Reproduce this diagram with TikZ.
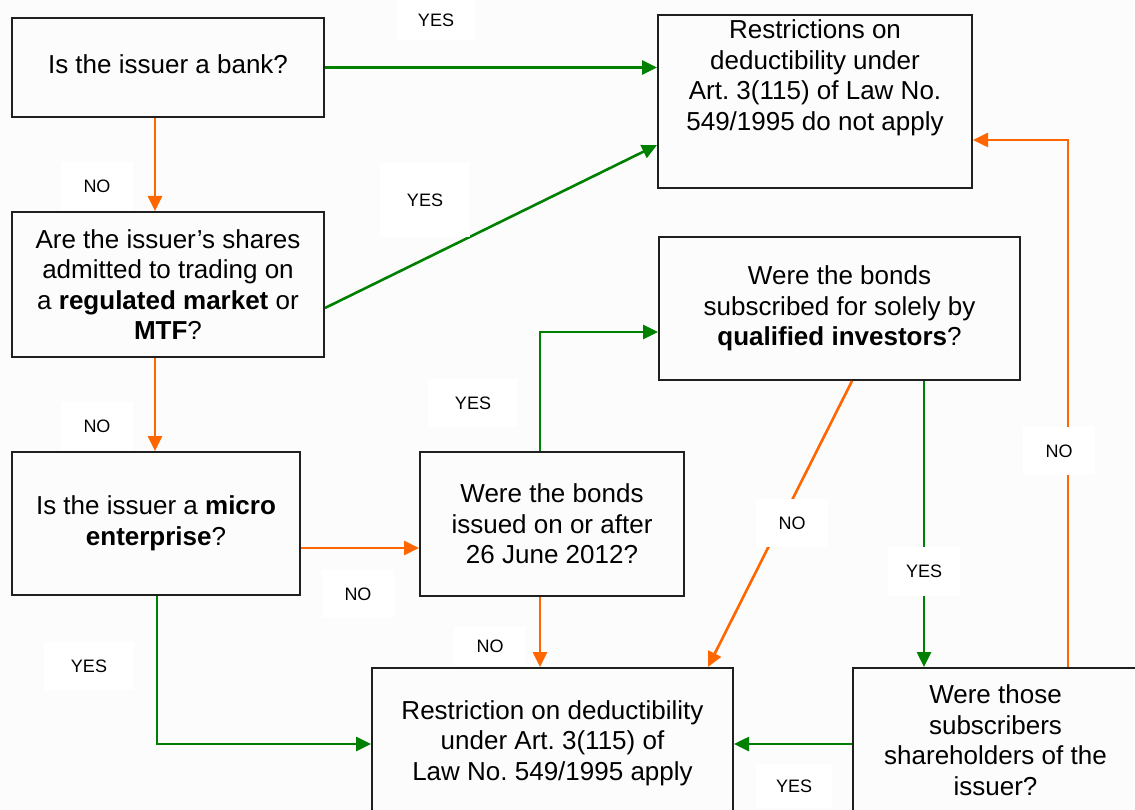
\documentclass[tikz,border=0pt]{standalone}
\usepackage{fontspec}
\setmainfont{Liberation Sans}
\usetikzlibrary{arrows.meta,calc}
\definecolor{ggreen}{HTML}{008000}
\definecolor{gorange}{HTML}{FF6600}
\definecolor{bgc}{HTML}{FCFCFC}
\frenchspacing
\begin{document}
\begin{tikzpicture}[x=1pt,y=-1pt,
 box/.style={draw=black!88, line width=2pt, inner sep=0pt, align=center, font=\fontsize{26}{30.5}\selectfont},
 txt/.style={align=center, inner sep=0pt, font=\fontsize{26}{30.5}\selectfont},
 lbl/.style={fill=white, font=\fontsize{18}{20}\selectfont, minimum width=72pt, minimum height=48pt, inner sep=0pt},
 garrow/.style={draw=ggreen, line width=2.6pt, -{Triangle[length=15pt,width=14pt]}},
 oarrow/.style={draw=gorange, line width=2.6pt, -{Triangle[length=15pt,width=14pt]}}]
\useasboundingbox (0,0) rectangle (1135,810);
\clip (0,0) rectangle (1135,810);
\fill[bgc] (0,0) rectangle (1135,810);

% boxes
\node[box, minimum width=312pt, minimum height=99pt] (A) at (168,67.5) {};
\node[txt] (At) at (168,64) {Is the issuer a bank?};
\node[box, minimum width=314pt, minimum height=173pt] (B) at (815,101.5) {};
\node[txt] (Bt) at (815,78) {Restrictions on\\deductibility under\\Art. 3(115) of Law No.\\549/1995 do not apply};
\node[box, minimum width=312pt, minimum height=145pt] (C) at (168,284.5) {Are the issuer’s shares\\admitted to trading on\\a \textbf{regulated market} or\\\textbf{MTF}?};
\node[box, minimum width=361pt, minimum height=143pt] (D) at (839.5,308.5) {Were the bonds\\subscribed for solely by\\\textbf{qualified investors}?};
\node[box, minimum width=288pt, minimum height=143pt] (E) at (156,523.5) {Is the issuer a \textbf{micro}\\\textbf{enterprise}?};
\node[box, minimum width=264pt, minimum height=144pt] (F) at (552,524) {Were the bonds\\issued on or after\\26 June 2012?};
\node[box, minimum width=361pt, minimum height=150pt] (G) at (552.5,743) {Restriction on deductibility\\under Art. 3(115) of\\Law No. 549/1995 apply};
\node[box, minimum width=285pt, minimum height=144pt] (H) at (995.5,740) {Were those\\subscribers\\shareholders of the\\issuer?};

% connectors
\draw[garrow] (A.east) -- (A.east -| B.west);
\draw[oarrow] ([xshift=-13pt]A.south) -- ([xshift=-13pt]A.south |- C.north);
\draw[garrow] ([yshift=-23.5pt]C.east) -- ([yshift=-43.5pt]B.west);
\draw[oarrow] ([xshift=-13pt]C.south) -- ([xshift=-13pt]C.south |- E.north);
\draw[oarrow] ([yshift=-24.5pt]E.east) -- ([yshift=-24.5pt]E.east -| F.west);
\draw[garrow] ([xshift=-12pt]F.north) |- ([yshift=-23.5pt]D.west);
\draw[oarrow] ([xshift=-12pt]F.south) -- ([xshift=-12pt]F.south |- G.north);
\draw[oarrow] ([xshift=12.5pt]D.south) -- ([xshift=155.5pt]G.north);
\draw[garrow] ([xshift=84.5pt]D.south) -- ([xshift=84.5pt]D.south |- H.north);
\draw[garrow] ([yshift=-4pt]H.west) -- ([yshift=-4pt]H.west -| G.east);
\draw[oarrow] ([xshift=72.5pt]H.north) |- ([yshift=-38.5pt]B.east);
\draw[garrow] ([xshift=1pt]E.south) |- ([yshift=-1pt]G.west);

% labels
\node[lbl, minimum width=78pt, minimum height=40pt] (l1) at (436,20) {YES};
\node[lbl] (l2) at (97,186) {NO};
\node[lbl, minimum width=90pt, minimum height=74pt] (l3) at (425,200) {YES};
\node[lbl] (l4) at (97,426) {NO};
\node[lbl, minimum width=90pt] (l5) at (473,403) {YES};
\node[lbl] (l6) at (358,594) {NO};
\node[lbl, minimum height=38pt] (l7) at (490,646) {NO};
\node[lbl] (l8) at (792,523) {NO};
\node[lbl, minimum height=49pt] (l9) at (924,571) {YES};
\node[lbl, minimum width=90pt] (l10) at (89,666) {YES};
\node[lbl, minimum width=76pt, minimum height=44pt] (l11) at (794,786) {YES};
\node[lbl] (l12) at (1059,451) {NO};
\end{tikzpicture}
\end{document}
